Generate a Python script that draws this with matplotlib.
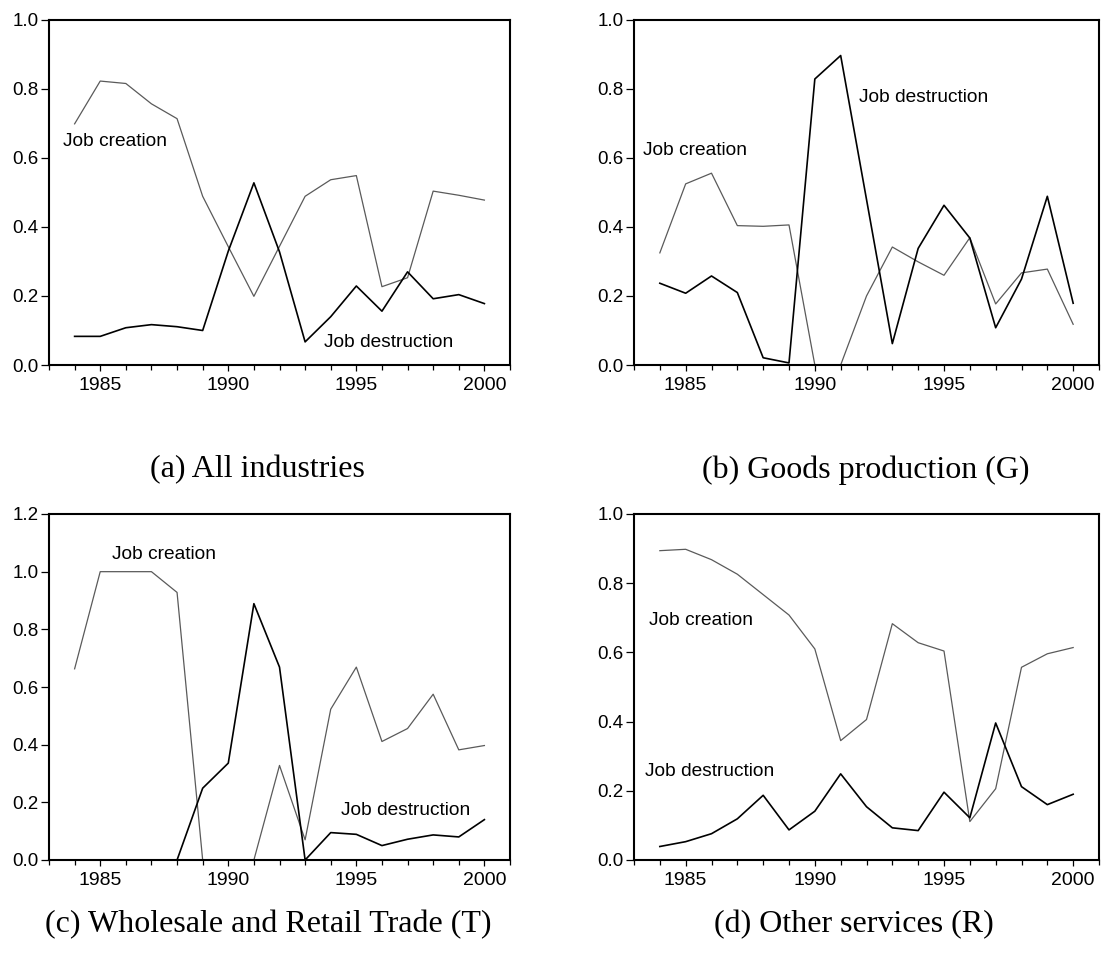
import matplotlib
matplotlib.use('Agg')
import matplotlib.pyplot as plt
from matplotlib.ticker import MultipleLocator, FormatStrFormatter

years = list(range(1984, 2001))

# (a) All industries
a_creation = [0.699, 0.823, 0.816, 0.757, 0.714, 0.489, 0.343, 0.199, 0.344, 0.489,
              0.537, 0.549, 0.227, 0.253, 0.504, 0.492, 0.478]
a_destruction = [0.083, 0.083, 0.108, 0.117, 0.111, 0.100, 0.33, 0.528, 0.328, 0.067,
                 0.140, 0.229, 0.156, 0.270, 0.192, 0.204, 0.178]

# (b) Goods production (G)
b_creation = [0.325, 0.525, 0.556, 0.404, 0.402, 0.406, 0.0, 0.0, 0.200, 0.342,
              0.299, 0.260, 0.369, 0.177, 0.267, 0.278, 0.118]
b_destruction = [0.237, 0.208, 0.258, 0.210, 0.021, 0.006, 0.829, 0.897, 0.48, 0.062,
                 0.338, 0.463, 0.368, 0.108, 0.249, 0.489, 0.179]

# (c) Wholesale and Retail Trade (T)
c_creation = [0.663, 1.0, 1.0, 1.0, 0.928, 0.0, 0.0, 0.0, 0.328, 0.070,
              0.523, 0.669, 0.411, 0.456, 0.575, 0.382, 0.397]
c_destruction = [0.0, 0.0, 0.0, 0.0, 0.0, 0.249, 0.336, 0.889, 0.669, 0.0,
                 0.095, 0.089, 0.050, 0.072, 0.087, 0.080, 0.140]

# (d) Other services (R)
d_creation = [0.894, 0.898, 0.868, 0.826, 0.767, 0.708, 0.610, 0.345, 0.406, 0.683,
              0.628, 0.604, 0.111, 0.206, 0.557, 0.596, 0.614]
d_destruction = [0.039, 0.053, 0.076, 0.119, 0.187, 0.087, 0.141, 0.249, 0.154, 0.093,
                 0.085, 0.196, 0.122, 0.396, 0.212, 0.160, 0.190]

captions = ['(a) All industries', '(b) Goods production (G)',
            '(c) Wholesale and Retail Trade (T)', '(d) Other services (R)']

W, H = 1101, 964
fig = plt.figure(figsize=(W / 100, H / 100), dpi=100, facecolor='white')


def px_axes(left, top, right, bottom):
    return fig.add_axes([left / W, 1 - bottom / H, (right - left) / W, (bottom - top) / H])


panels = [
    (px_axes(49, 20, 510, 365), a_creation, a_destruction, 1.0,
     (1983.55, 0.649), (1993.74, 0.064)),
    (px_axes(634, 20, 1099, 365), b_creation, b_destruction, 1.0,
     (1983.35, 0.622), (1991.71, 0.775)),
    (px_axes(49, 514, 510, 860), c_creation, c_destruction, 1.2,
     (1985.46, 1.058), (1994.40, 0.173)),
    (px_axes(634, 514, 1099, 860), d_creation, d_destruction, 1.0,
     (1983.58, 0.691), (1983.44, 0.256)),
]

for ax, creation, destruction, ymax, pos_c, pos_d in panels:
    ax.plot(years, creation, color='#5a5a5a', lw=0.9, clip_on=False)
    ax.plot(years, destruction, color='black', lw=1.2, clip_on=False)
    ax.set_xlim(1983, 2001)
    ax.set_ylim(0, ymax)
    ax.xaxis.set_major_locator(MultipleLocator(5))
    ax.xaxis.set_minor_locator(MultipleLocator(1))
    ax.yaxis.set_major_locator(MultipleLocator(0.2))
    ax.yaxis.set_major_formatter(FormatStrFormatter('%.1f'))
    ax.tick_params(axis='x', which='major', direction='out', length=4.5, width=0.9,
                   pad=4, labelsize=14)
    ax.tick_params(axis='x', which='minor', direction='out', length=3.5, width=0.9)
    ax.tick_params(axis='y', direction='out', length=5.5, width=0.9, pad=2, labelsize=13.5)
    for lab in ax.get_xticklabels() + ax.get_yticklabels():
        lab.set_family('Liberation Sans')
    for sp in ax.spines.values():
        sp.set_linewidth(1.5)
    ax.text(pos_c[0], pos_c[1], 'Job creation', family='Liberation Sans', fontsize=13.8,
            ha='left', va='center')
    ax.text(pos_d[0], pos_d[1], 'Job destruction', family='Liberation Sans', fontsize=13.8,
            ha='left', va='center')

cap_pos = [(257, 470), (866, 470), (268, 925), (854, 925)]
for (cx, cy), cap in zip(cap_pos, captions):
    fig.text(cx / W, 1 - cy / H, cap, family='Liberation Serif', fontsize=23,
             ha='center', va='center')

fig.savefig('out.png', dpi=100, facecolor='white')
